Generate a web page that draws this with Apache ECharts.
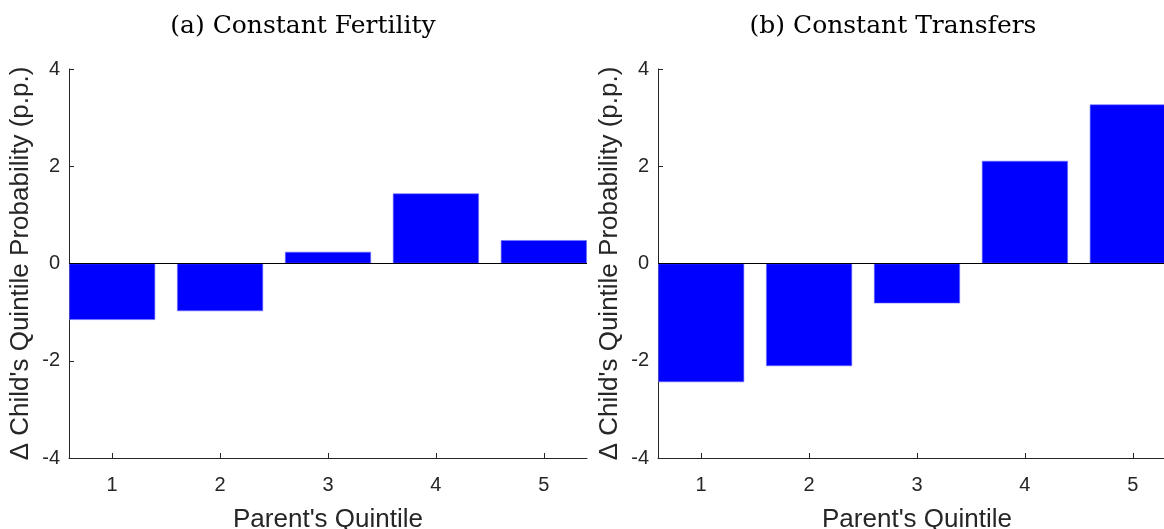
<!DOCTYPE html>
<html>
<head>
<meta charset="utf-8">
<script src="https://cdn.jsdelivr.net/npm/echarts@6/dist/echarts.min.js"></script>
<style>
  html, body { margin: 0; padding: 0; background: #fff; }
  #chart { width: 1164px; height: 529px; }
</style>
</head>
<body>
<div id="chart"></div>
<script>
// Parent's quintile positions and change in child's quintile probability (p.p.)
const quintiles = [1, 2, 3, 4, 5];
const constantFertility = [-1.16, -0.98, 0.24, 1.44, 0.48];
const constantTransfers = [-2.44, -2.11, -0.82, 2.11, 3.27];
const panelTitles = ['(a) Constant Fertility', '(b) Constant Transfers'];
const xName = "Parent's Quintile";
const yName = "\u0394 Child's Quintile Probability (p.p.)";
const yMin = -4;
const yMax = 4;

const axisColor = '#262626';
const sans = 'Liberation Sans, Arial, sans-serif';
const serif = 'DejaVu Serif, Liberation Serif, serif';

const chart = echarts.init(document.getElementById('chart'));

// Two panels side by side; the right one runs past the page edge
const grids = [
  { left: 69, top: 69, width: 518, height: 389, outerBoundsMode: 'none', containLabel: false },
  { left: 658, top: 69, width: 518, height: 389, outerBoundsMode: 'none', containLabel: false }
];

function xAxisFor(i) {
  return {
    gridIndex: i, type: 'value', min: 0.6, max: 5.4,
    position: 'bottom',
    name: xName, nameLocation: 'middle', nameGap: 49,
    nameTextStyle: { fontFamily: sans, fontSize: 26, color: axisColor },
    axisLine: { show: true, onZero: false, lineStyle: { color: axisColor, width: 1 } },
    axisTick: { show: true, inside: true, length: 5, customValues: quintiles, lineStyle: { color: axisColor } },
    axisLabel: { show: true, customValues: quintiles, fontFamily: sans, fontSize: 20, color: axisColor, margin: 17 },
    splitLine: { show: false }
  };
}

function yAxisFor(i) {
  return {
    gridIndex: i, type: 'value', min: yMin, max: yMax, interval: 2,
    name: yName, nameLocation: 'middle', nameGap: 35, nameRotate: 90,
    nameTextStyle: { fontFamily: sans, fontSize: 26, color: axisColor },
    axisLine: { show: true, onZero: false, lineStyle: { color: axisColor, width: 1 } },
    axisTick: { show: true, inside: true, length: 5, lineStyle: { color: axisColor } },
    axisLabel: { fontFamily: sans, fontSize: 20, color: axisColor, margin: 9 },
    splitLine: { show: false }
  };
}

function barSeries(i, values) {
  return {
    type: 'bar', xAxisIndex: i, yAxisIndex: i,
    data: quintiles.map((q, k) => [q, values[k]]),
    barWidth: 86,
    itemStyle: { color: '#0000ff', borderColor: '#6f6fff', borderWidth: 0.6 },
    silent: true,
    markLine: {
      silent: true, symbol: 'none', label: { show: false },
      lineStyle: { color: '#000', width: 1, type: 'solid' },
      data: [
        { yAxis: 0 },
        // bottom frame line along the lower axis limit
        { yAxis: yMin, lineStyle: { color: axisColor, width: 1, type: 'solid' } }
      ]
    },
    z: 2
  };
}

chart.setOption({
  animation: false,
  backgroundColor: '#fff',
  title: [
    { text: panelTitles[0], left: 298, top: 9, textAlign: 'center',
      textStyle: { fontFamily: serif, fontSize: 25, fontWeight: 'normal', color: '#000' } },
    { text: panelTitles[1], left: 888, top: 9, textAlign: 'center',
      textStyle: { fontFamily: serif, fontSize: 25, fontWeight: 'normal', color: '#000' } }
  ],
  grid: grids,
  xAxis: [xAxisFor(0), xAxisFor(1)],
  yAxis: [yAxisFor(0), yAxisFor(1)],
  series: [barSeries(0, constantFertility), barSeries(1, constantTransfers)]
});
</script>
</body>
</html>
